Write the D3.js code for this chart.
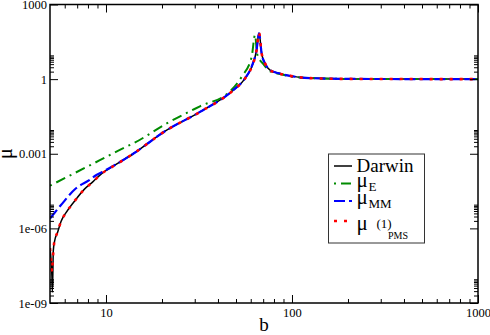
<!DOCTYPE html>
<html>
<head>
<meta charset="utf-8">
<script src="https://cdn.jsdelivr.net/npm/d3@7"></script>
<style>
  html, body { margin: 0; padding: 0; background: #fff; }
  svg { display: block; }
  #chart text { font-family: "Liberation Serif", serif; }
</style>
</head>
<body>
<svg id="chart" width="490" height="335"></svg>
<script>
/* ── data ── */
const darwinB  = [5.0, 5.07, 5.12, 5.15, 5.18, 5.21, 5.3, 5.5, 5.73, 6.1, 6.75, 7.64, 8.49, 9.48, 10.4, 14.0, 21.2, 32.0, 48.3, 55.9, 60.7, 64.5, 66.5, 68.7, 71.6, 76.2, 86.3, 97.6, 125, 200, 1000];
const darwinMu = [1.6e-7, 5e-8, 1.2e-8, 2.8e-9, 1.5e-8, 1.3e-7, 3.2e-7, 7.2e-7, 1.9e-6, 4.3e-6, 1.2e-5, 3.7e-5, 7.4e-5, 1.6e-4, 2.5e-4, 1.0e-3, 8.9e-3, 0.048, 0.355, 1.05, 3.1, 14.5, 72, 10.7, 4.3, 2.3, 1.66, 1.35, 1.1, 1.02, 1.0];

const eB  = [5.0, 9.27, 12.8, 14.0, 21.2, 32.0, 46.2, 53.7, 60.7, 63.3, 65.0, 70.2, 76, 86, 98, 125, 200, 1000];
const eMu = [5.2e-5, 5.5e-4, 1.9e-3, 2.6e-3, 0.0166, 0.081, 0.31, 1.26, 7.9, 60, 10, 4.0, 2.1, 1.6, 1.3, 1.1, 1.02, 1.0];

const mmB  = [5.0, 5.73, 6.9, 8.13, 8.88, 9.48, 10.4, 14.0, 21.2, 32.0, 48.3, 55.9, 60.7, 64.5, 66.5, 68.7, 71.6, 76.2, 86.3, 97.6, 125, 200, 1000];
const mmMu = [2.5e-6, 8.7e-6, 4.1e-5, 8.7e-5, 1.4e-4, 1.8e-4, 2.6e-4, 1.0e-3, 8.9e-3, 0.048, 0.36, 1.08, 3.2, 15, 70, 10.5, 4.3, 2.3, 1.66, 1.35, 1.1, 1.02, 1.0];

const pmsB  = [5.0, 5.06, 5.12, 5.18, 5.275, 5.5, 5.73, 6.1, 6.75, 7.64, 8.49, 9.48, 10.4, 14.0, 21.2, 32.0, 48.3, 55.9, 60.7, 64.5, 66.5, 68.7, 71.6, 76.2, 86.3, 97.6, 125, 200, 1000];
const pmsMu = [1.6e-7, 5.6e-8, 1.8e-8, 6.3e-8, 2.9e-7, 7.2e-7, 1.9e-6, 4.3e-6, 1.2e-5, 3.7e-5, 7.4e-5, 1.6e-4, 2.5e-4, 1.0e-3, 8.9e-3, 0.048, 0.355, 1.05, 3.1, 14.5, 72, 10.7, 4.3, 2.3, 1.66, 1.35, 1.1, 1.02, 1.0];

const xTicks  = [10, 100, 1000];
const xLabels = ["10", "100", "1000"];
const yTicks  = [1e-9, 1e-6, 1e-3, 1, 1000];
const yLabels = ["1e-09", "1e-06", "0.001", "1", "1000"];

const series = [
  { b: darwinB, mu: darwinMu, color: "#000000", width: 1.5, dash: null },
  { b: eB,      mu: eMu,      color: "#008b00", width: 2,   dash: "2,5,10,5" },
  { b: mmB,     mu: mmMu,     color: "#0000ff", width: 2.2, dash: "11,4" },
  { b: pmsB,    mu: pmsMu,    color: "#ff0000", width: 2.6, dash: "3,7" },
];

const FONT = "Liberation Serif";

/* ── layout ── */
const svg = d3.select("#chart");
const L = 50, R = 478, T = 4.5, B = 303;

const x = d3.scaleLog().domain([5, 1000]).range([L, R]);
const y = d3.scaleLog().domain([1e-9, 1000]).range([B, T]);

// minor ticks: 2..9 inside each decade
const xMinor = [6, 7, 8, 9, ...d3.range(2, 10).map(k => k * 10), ...d3.range(2, 10).map(k => k * 100)];
const yMinor = yTicks.slice(0, -1).flatMap(v => d3.range(2, 10).map(k => k * v));

svg.append("clipPath").attr("id", "clip")
  .append("rect").attr("x", L).attr("y", T).attr("width", R - L).attr("height", B - T);

/* ── curves ── */
const line = d3.line()
  .x(d => x(d[0]))
  .y(d => y(d[1]))
  .curve(d3.curveMonotoneX);

const plot = svg.append("g").attr("clip-path", "url(#clip)");
series.forEach(s => {
  plot.append("path")
    .datum(s.b.map((b, i) => [b, s.mu[i]]))
    .attr("fill", "none")
    .attr("stroke", s.color)
    .attr("stroke-width", s.width)
    .attr("stroke-dasharray", s.dash)
    .attr("stroke-linejoin", "round")
    .attr("d", line);
});

/* ── axes (ticks inward on all four sides) ── */
function styleAxis(g) {
  g.attr("font-family", FONT).attr("font-size", 12.5);
  g.select(".domain").remove();
  g.selectAll(".tick line").attr("stroke", "#000");
  g.selectAll("text").attr("fill", "#000");
}

svg.append("g").attr("transform", `translate(${L},0)`)
  .call(d3.axisLeft(y).tickValues(yTicks).tickSize(-8).tickSizeOuter(0).tickPadding(3)
    .tickFormat((d, i) => yLabels[i]))
  .call(styleAxis);
svg.append("g").attr("transform", `translate(${L},0)`)
  .call(d3.axisLeft(y).tickValues(yMinor).tickSize(-4).tickFormat(""))
  .call(styleAxis);

svg.append("g").attr("transform", `translate(${R},0)`)
  .call(d3.axisRight(y).tickValues(yTicks).tickSize(-8).tickFormat(""))
  .call(styleAxis);
svg.append("g").attr("transform", `translate(${R},0)`)
  .call(d3.axisRight(y).tickValues(yMinor).tickSize(-4).tickFormat(""))
  .call(styleAxis);

svg.append("g").attr("transform", `translate(0,${B})`)
  .call(d3.axisBottom(x).tickValues(xTicks).tickSize(-8).tickSizeOuter(0).tickPadding(5)
    .tickFormat((d, i) => xLabels[i]))
  .call(styleAxis);
svg.append("g").attr("transform", `translate(0,${B})`)
  .call(d3.axisBottom(x).tickValues(xMinor).tickSize(-4).tickFormat(""))
  .call(styleAxis);

svg.append("g").attr("transform", `translate(0,${T})`)
  .call(d3.axisTop(x).tickValues(xTicks).tickSize(-8).tickFormat(""))
  .call(styleAxis);
svg.append("g").attr("transform", `translate(0,${T})`)
  .call(d3.axisTop(x).tickValues(xMinor).tickSize(-4).tickFormat(""))
  .call(styleAxis);

// frame
svg.append("rect")
  .attr("x", L).attr("y", T).attr("width", R - L).attr("height", B - T)
  .attr("fill", "none").attr("stroke", "#000").attr("stroke-width", 1.5);

// axis titles
svg.append("text")
  .attr("x", (L + R) / 2).attr("y", 331)
  .attr("text-anchor", "middle").attr("font-size", 19)
  .text("b");
svg.append("text")
  .attr("transform", `translate(12,${(T + B) / 2}) rotate(-90)`)
  .attr("text-anchor", "middle").attr("font-size", 20)
  .text("μ");

/* ── legend ── */
const lg = svg.append("g");
lg.append("rect")
  .attr("x", 328.5).attr("y", 154).attr("width", 96).attr("height", 89)
  .attr("fill", "#fff").attr("stroke", "#333").attr("stroke-width", 1);

const legendRows = [
  { y: 166, text: "Darwin", sub: null, sup: null },
  { y: 183.5, text: "μ", sub: "E", sup: null },
  { y: 201, text: "μ", sub: "MM", sup: null },
  { y: 221, text: "μ", sub: "PMS", sup: "(1)" },
];
legendRows.forEach((r, i) => {
  const s = series[i];
  lg.append("line")
    .attr("x1", 334).attr("x2", 352).attr("y1", r.y).attr("y2", r.y)
    .attr("stroke", s.color).attr("stroke-width", s.width)
    .attr("stroke-dasharray", s.dash);
  lg.append("text")
    .attr("x", 356.5).attr("y", r.y + (i === 0 ? 6 : i === 3 ? 9 : 3))
    .attr("font-size", i === 0 ? 19 : 21)
    .text(r.text);
  if (r.sup) {
    lg.append("text").attr("x", 376.5).attr("y", r.y + 6.5)
      .attr("font-size", 13).text(r.sup);
    lg.append("text").attr("x", 388).attr("y", r.y + 18)
      .attr("font-size", 10).text(r.sub);
  } else if (r.sub) {
    lg.append("text").attr("x", 368.5).attr("y", r.y + 7)
      .attr("font-size", 13).text(r.sub);
  }
});
</script>
</body>
</html>
